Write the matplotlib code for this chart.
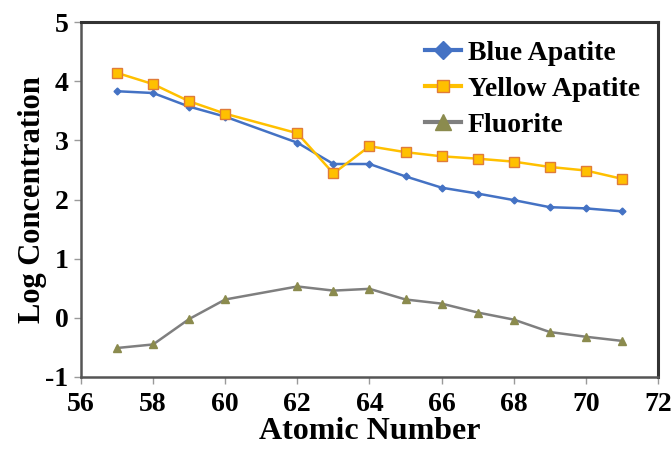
import matplotlib
matplotlib.use("Agg")
import matplotlib.pyplot as plt

# atomic numbers of the lanthanides (no Pm)
atomic_number = [57, 58, 59, 60, 62, 63, 64, 65, 66, 67, 68, 69, 70, 71]
blue_apatite = [3.83, 3.80, 3.57, 3.40, 2.96, 2.60, 2.60, 2.39, 2.20, 2.10, 1.99, 1.87, 1.85, 1.80]
yellow_apatite = [4.14, 3.95, 3.66, 3.45, 3.12, 2.44, 2.90, 2.80, 2.73, 2.69, 2.64, 2.55, 2.49, 2.35]
fluorite = [-0.51, -0.45, -0.02, 0.31, 0.53, 0.46, 0.49, 0.31, 0.24, 0.09, -0.03, -0.24, -0.32, -0.39]

xticks = [56, 58, 60, 62, 64, 66, 68, 70, 72]
yticks = [-1, 0, 1, 2, 3, 4, 5]

plt.rcParams['font.family'] = ['Liberation Serif', 'DejaVu Serif']
plt.rcParams['font.weight'] = 'bold'
plt.rcParams['axes.unicode_minus'] = False

fig = plt.figure(figsize=(6.71, 4.53), dpi=100)
ax = fig.add_axes([0.1207, 0.1678, 0.8599, 0.7836])

ax.plot(atomic_number, blue_apatite, '-D', color='#4472C4', lw=1.8,
        markersize=3.5, markerfacecolor='#4472C4', markeredgecolor='#4472C4',
        label='Blue Apatite')
ax.plot(atomic_number, yellow_apatite, '-s', color='#FFC000', lw=1.8,
        markersize=7, markerfacecolor='#FFC000', markeredgecolor='#E07B39',
        markeredgewidth=1.0, label='Yellow Apatite')
ax.plot(atomic_number, fluorite, '-^', color='#7F7F7F', lw=1.8,
        markersize=5.5, markerfacecolor='#8B8B4E', markeredgecolor='#8B8B4E',
        label='Fluorite')

ax.set_xlim(56, 72)
ax.set_ylim(-1, 5)
ax.set_xticks(xticks)
ax.set_yticks(yticks)
ax.tick_params(axis='both', labelsize=20, color='#9A9A9A', length=5, width=1)
ax.tick_params(axis='x', pad=6)
ax.tick_params(axis='y', pad=4)
for lbl in ax.get_xticklabels() + ax.get_yticklabels():
    lbl.set_fontweight('bold')

ax.set_xlabel('Atomic Number', fontsize=23, fontweight='bold', labelpad=0)
ax.set_ylabel('Log Concentration', fontsize=22, fontweight='bold', labelpad=-1)

ax.spines['left'].set_color('#555555')
ax.spines['bottom'].set_color('#555555')
ax.spines['left'].set_linewidth(1.8)
ax.spines['bottom'].set_linewidth(1.8)
ax.spines['top'].set_color('#333333')
ax.spines['right'].set_color('#333333')
ax.spines['top'].set_linewidth(2.2)
ax.spines['right'].set_linewidth(2.2)

leg = ax.legend(loc='upper right', frameon=False, fontsize=20,
                handlelength=1.3, handletextpad=0.25, labelspacing=0.38,
                borderaxespad=0.35, borderpad=0.3)
for t in leg.get_texts():
    t.set_fontweight('bold')
for h, ms in zip(leg.legend_handles, [9, 9, 12]):
    h.set_markersize(ms)
    h.set_linewidth(3)

fig.savefig('out.png', dpi=100)
